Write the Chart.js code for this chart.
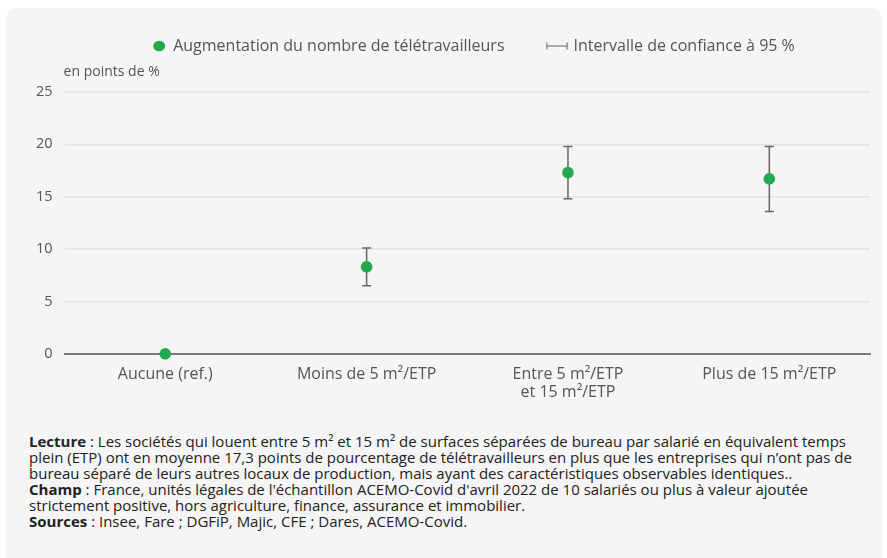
<!DOCTYPE html>
<html>
<head>
<meta charset="utf-8">
<script src="https://cdn.jsdelivr.net/npm/chart.js@4.4.1/dist/chart.umd.min.js"></script>
<style>
  body { margin:0; background:#fff; width:887px; height:558px; overflow:hidden; font-family:"Open Sans", sans-serif; }
  #carte { position:absolute; left:6px; top:8px; width:876px; height:570px; background:#f5f5f5; border-radius:10px; overflow:hidden; }
  #zone { position:absolute; left:0; top:-19px; width:876px; height:424px; }
  #notes { position:absolute; left:23px; top:425px; width:845px; font-size:15px; line-height:16px; color:#222; }
  #notes b { font-weight:700; }
</style>
</head>
<body>
<div id="carte">
  <div id="zone"><canvas id="graphe"></canvas></div>
  <div id="notes">
    <b>Lecture</b> : Les sociétés qui louent entre 5 m² et 15 m² de surfaces séparées de bureau par salarié en équivalent temps plein (ETP) ont en moyenne 17,3 points de pourcentage de télétravailleurs en plus que les entreprises qui n’ont pas de bureau séparé de leurs autres locaux de production, mais ayant des caractéristiques observables identiques..<br>
    <b>Champ</b> : France, unités légales de l'échantillon ACEMO-Covid d'avril 2022 de 10 salariés ou plus à valeur ajoutée strictement positive, hors agriculture, finance, assurance et immobilier.<br>
    <b>Sources</b> : Insee, Fare ; DGFiP, Majic, CFE ; Dares, ACEMO-Covid.
  </div>
</div>
<script>
// données
let categories = ["Aucune (ref.)", "Moins de 5 m²/ETP", ["Entre 5 m²/ETP", "et 15 m²/ETP"], "Plus de 15 m²/ETP"];
let augmentation = [0, 8.3, 17.3, 16.7];
let borneBasse = [null, 6.5, 14.8, 13.6];
let borneHaute = [null, 10.1, 19.8, 19.8];

let vert = "#22a84e";
let grisBarre = "#666666";

// petit symbole pour la légende de l'intervalle
let symbole = document.createElement("canvas");
symbole.width = 28; symbole.height = 10;
let sc = symbole.getContext("2d");
sc.strokeStyle = grisBarre; sc.lineWidth = 1.2;
sc.beginPath();
sc.moveTo(0.5, 5); sc.lineTo(22, 5);
sc.moveTo(1, 1.5); sc.lineTo(1, 8.5);
sc.moveTo(21.5, 1.5); sc.lineTo(21.5, 8.5);
sc.stroke();

let barresErreur = {
  id: "barresErreur",
  beforeDatasetsDraw(chart) {
    let ctx = chart.ctx;
    let x = chart.scales.x, y = chart.scales.y;
    ctx.save();
    ctx.strokeStyle = grisBarre;
    ctx.lineWidth = 1.5;
    for (let i = 0; i < categories.length; i++) {
      if (borneBasse[i] == null) continue;
      let px = x.getPixelForValue(i);
      let h = y.getPixelForValue(borneHaute[i]);
      let b = y.getPixelForValue(borneBasse[i]);
      ctx.beginPath();
      ctx.moveTo(px, h); ctx.lineTo(px, b);
      ctx.moveTo(px - 4.5, h); ctx.lineTo(px + 4.5, h);
      ctx.moveTo(px - 4.5, b); ctx.lineTo(px + 4.5, b);
      ctx.stroke();
    }
    ctx.restore();
  }
};

let uniteAxe = {
  id: "uniteAxe",
  afterDraw(chart) {
    let ctx = chart.ctx;
    ctx.save();
    ctx.fillStyle = "#555";
    ctx.font = "14px 'Open Sans'";
    ctx.textBaseline = "middle";
    ctx.fillText("en points de %", chart.chartArea.left - 1, chart.chartArea.top - 20);
    ctx.restore();
  }
};

let margeLegende = {
  id: "margeLegende",
  beforeInit(chart) {
    let fit = chart.legend.fit;
    chart.legend.fit = function() {
      fit.bind(chart.legend)();
      this.height = 103;
    };
  },
  afterLayout(chart) {
    chart.legend.left += 27;
    chart.legend.right += 27;
  }
};

let graphe = new Chart(document.getElementById("graphe"), {
  type: "line",
  data: {
    labels: categories,
    datasets: [
      { label: "Augmentation du nombre de télétravailleurs",
        data: augmentation,
        showLine: false,
        clip: false,
        pointRadius: 5.8, pointHoverRadius: 5.8,
        pointBackgroundColor: vert, pointBorderColor: vert, pointBorderWidth: 0,
        backgroundColor: vert, borderColor: vert,
        pointStyle: "circle" },
      { label: "Intervalle de confiance à 95 %",
        data: [],
        showLine: false,
        pointStyle: symbole,
        borderColor: grisBarre, backgroundColor: grisBarre }
    ]
  },
  options: {
    responsive: true,
    maintainAspectRatio: false,
    animation: false,
    layout: { padding: { left: 18, right: 12, top: 0, bottom: 0 } },
    plugins: {
      legend: {
        position: "top",
        labels: {
          usePointStyle: true,
          boxHeight: 7.5,
          pointStyleWidth: 12,
          padding: 49,
          color: "#555",
          font: { family: "'Open Sans'", size: 16 }
        }
      },
      tooltip: { enabled: false }
    },
    scales: {
      x: {
        offset: true,
        grid: { display: false, drawTicks: false },
        border: { color: "#7a7a7a", width: 2 },
        ticks: { color: "#555", padding: 12, maxRotation: 0, font: { family: "'Open Sans'", size: 16, lineHeight: 1.1 } }
      },
      y: {
        min: 0, max: 25,
        ticks: { stepSize: 5, color: "#555", padding: 12, font: { family: "'Open Sans'", size: 14.5 } },
        grid: { color: "#e2e2e2", lineWidth: 1.5, drawTicks: false },
        border: { display: false }
      }
    }
  },
  plugins: [barresErreur, uniteAxe, margeLegende]
});
</script>
</body>
</html>
